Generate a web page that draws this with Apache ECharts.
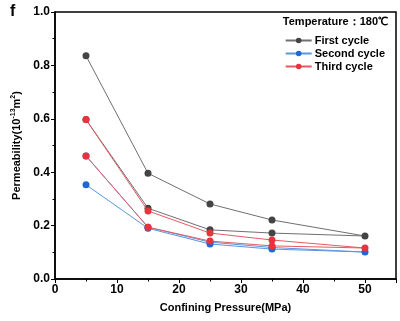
<!DOCTYPE html>
<html>
<head>
<meta charset="utf-8">
<script src="https://cdn.jsdelivr.net/npm/echarts@6/dist/echarts.min.js"></script>
<style>
  html, body { margin: 0; padding: 0; background: #fff; }
  #chart { width: 400px; height: 321px; }
</style>
</head>
<body>
<div id="chart"></div>
<script>
// Confining pressure path: loading 5 -> 50 MPa, then unloading 50 -> 5 MPa
const pressures = [5, 15, 25, 35, 50, 35, 25, 15, 5];
// Permeability (10^-13 m^2) along the loading/unloading path
const firstCycle  = [0.836, 0.396, 0.281, 0.221, 0.161, 0.172, 0.184, 0.265, 0.597];
const secondCycle = [0.353, 0.190, 0.131, 0.112, 0.101, 0.118, 0.138, 0.194, 0.461];
const thirdCycle  = [0.597, 0.255, 0.172, 0.146, 0.116, 0.124, 0.142, 0.194, 0.461];
const seriesNames = ['First cycle', 'Second cycle', 'Third cycle'];
const xTicks = [0, 10, 20, 30, 40, 50];
const yTicks = [0.0, 0.2, 0.4, 0.6, 0.8, 1.0];

const font = 'Liberation Sans, Arial, sans-serif';
const pairs = vals => pressures.map((p, i) => [p, vals[i]]);

const styles = [
  { line: '#707070', dot: '#444444' },
  { line: '#5a96df', dot: '#1f68d4' },
  { line: '#e45a64', dot: '#e8333d' }
];

const chart = echarts.init(document.getElementById('chart'), null, { renderer: 'canvas' });
chart.setOption({
  animation: false,
  backgroundColor: '#fff',
  textStyle: { fontFamily: font },
  grid: { left: 55, right: 4, top: 12, bottom: 42, show: true, borderColor: '#000', borderWidth: 1.5, backgroundColor: 'transparent' },
  graphic: [
    { type: 'text', left: 10, top: 4, style: { text: 'f', font: 'bold 16px ' + font, fill: '#000' } },
    { type: 'text', right: 12, top: 16, style: { text: 'Temperature：180℃', font: 'bold 11px ' + font, fill: '#000' } }
  ],
  legend: {
    orient: 'vertical',
    right: 10,
    top: 30,
    itemWidth: 26,
    itemHeight: 7,
    itemGap: 2,
    textStyle: { fontFamily: font, fontWeight: 'bold', fontSize: 11, color: '#000', padding: [0, 0, 0, -2] },
    data: seriesNames
  },
  xAxis: {
    type: 'value',
    min: 0, max: 55, interval: 10,
    name: 'Confining Pressure(MPa)',
    nameLocation: 'middle',
    nameGap: 23,
    nameTextStyle: { fontFamily: font, fontWeight: 'bold', fontSize: 11, color: '#000' },
    axisLine: { show: true, onZero: false, lineStyle: { color: '#000', width: 1.5 } },
    axisTick: { show: true, length: 4, lineStyle: { color: '#000', width: 1 } },
    minorTick: { show: true, splitNumber: 2, length: 2.5, lineStyle: { color: '#000', width: 1 } },
    axisLabel: {
      fontFamily: font, fontWeight: 'bold', fontSize: 12, color: '#000', margin: 5, showMaxLabel: false,
      formatter: v => (xTicks.includes(v) ? String(v) : '')
    },
    splitLine: { show: false }
  },
  yAxis: {
    type: 'value',
    min: 0, max: 1, interval: 0.2,
    name: '{n|Permeability(10}{s|-13}{n|m}{s|2}{n|)}',
    nameLocation: 'middle',
    nameGap: 31,
    nameTextStyle: {
      rich: {
        n: { fontFamily: font, fontWeight: 'bold', fontSize: 11, color: '#000' },
        s: { fontFamily: font, fontWeight: 'bold', fontSize: 7, color: '#000', padding: [0, 0, 7, 0] }
      }
    },
    axisLine: { show: true, lineStyle: { color: '#000', width: 1.5 } },
    axisTick: { show: true, length: 4, lineStyle: { color: '#000', width: 1 } },
    minorTick: { show: true, splitNumber: 2, length: 2.5, lineStyle: { color: '#000', width: 1 } },
    axisLabel: {
      fontFamily: font, fontWeight: 'bold', fontSize: 12, color: '#000', margin: 5,
      formatter: v => {
        const t = yTicks.find(y => Math.abs(y - v) < 1e-9);
        return t === undefined ? '' : t.toFixed(1);
      }
    },
    splitLine: { show: false }
  },
  series: [firstCycle, secondCycle, thirdCycle].map((vals, i) => ({
    name: seriesNames[i],
    type: 'line',
    data: pairs(vals),
    symbol: 'circle',
    symbolSize: 7,
    lineStyle: { color: styles[i].line, width: 1 },
    itemStyle: { color: styles[i].dot },
    z: 2 + i
  }))
});
</script>
</body>
</html>
